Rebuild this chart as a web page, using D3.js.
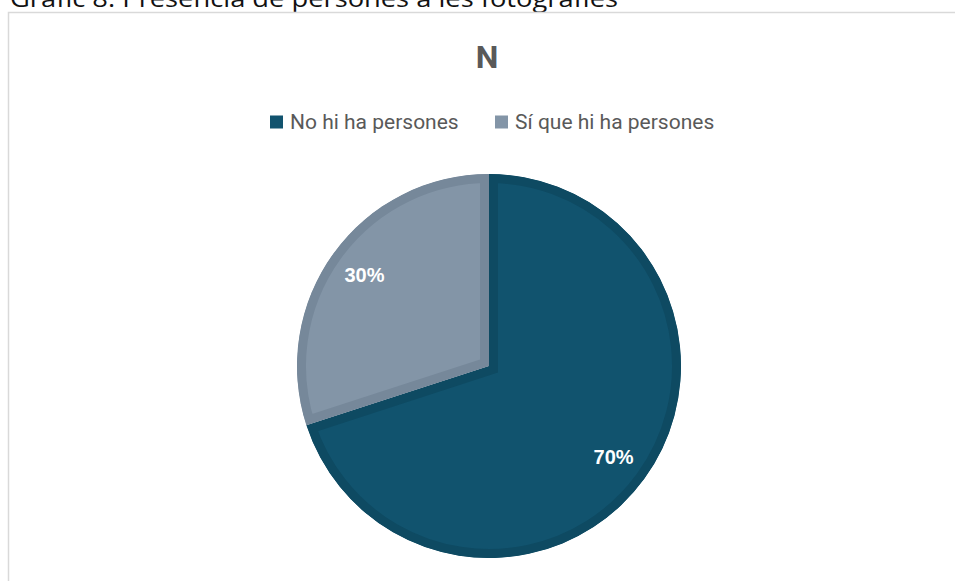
<!DOCTYPE html>
<html>
<head>
<meta charset="utf-8">
<script src="https://cdn.jsdelivr.net/npm/d3@7/dist/d3.min.js"></script>
<style>
  html, body { margin: 0; padding: 0; background: #ffffff; }
  svg { display: block; }
</style>
</head>
<body>
<svg id="chart" width="955" height="581"></svg>
<script>
// Chart data
const categories = ["No hi ha persones", "Sí que hi ha persones"];
const values = [70, 30];
const fills = ["#11536E", "#8395A7"];
const edges = ["#0E4A62", "#76889A"];
const caption = "Gràfic 8. Presència de persones a les fotografies";
const title = "N";

const W = 955, H = 581;
const svg = d3.select("#chart");

// Caption above the chart frame (only its lower part fits on the page)
svg.append("text")
  .attr("x", 10).attr("y", 7)
  .attr("font-family", "'Open Sans', 'Liberation Sans', sans-serif")
  .attr("font-size", 23)
  .attr("textLength", 608)
  .attr("lengthAdjust", "spacingAndGlyphs")
  .attr("fill", "#111111")
  .text(caption);

// Chart frame
svg.append("path")
  .attr("d", `M8.5,${H} L8.5,12.5 L${W},12.5`)
  .attr("fill", "none")
  .attr("stroke", "#d9d9d9")
  .attr("stroke-width", 1.5);

// Title
svg.append("text")
  .attr("x", 487).attr("y", 68)
  .attr("text-anchor", "middle")
  .attr("font-family", "Roboto, 'Liberation Sans', sans-serif")
  .attr("font-weight", "bold")
  .attr("font-size", 32)
  .attr("fill", "#595959")
  .text(title);

// Legend
const legendItems = [{x: 270, i: 0}, {x: 495, i: 1}];
const legend = svg.append("g");
legendItems.forEach(d => {
  legend.append("rect")
    .attr("x", d.x).attr("y", 115.5)
    .attr("width", 13).attr("height", 13)
    .attr("fill", fills[d.i]);
  legend.append("text")
    .attr("x", d.x + 20).attr("y", 128.5)
    .attr("font-family", "Roboto, 'Liberation Sans', sans-serif")
    .attr("font-size", 21)
    .attr("fill", "#595959")
    .text(categories[d.i]);
});

// Pie
const cx = 489, cy = 366, R = 192;
const pie = d3.pie().sort(null).value(d => d)(values);
const arc = d3.arc().innerRadius(0).outerRadius(R);
const labelArc = d3.arc().innerRadius(154).outerRadius(154);

const g = svg.append("g").attr("transform", `translate(${cx},${cy})`);
const defs = svg.append("defs");

pie.forEach((p, i) => {
  const d = arc(p);
  defs.append("clipPath").attr("id", "slice-clip-" + i)
    .append("path").attr("d", d);
  g.append("path")
    .attr("d", d)
    .attr("fill", fills[i])
    .attr("stroke", edges[i])
    .attr("stroke-width", 18)
    .attr("clip-path", `url(#slice-clip-${i})`);
});

// Percentage labels
const total = d3.sum(values);
pie.forEach((p, i) => {
  const [lx, ly] = labelArc.centroid(p);
  g.append("text")
    .attr("x", lx).attr("y", ly)
    .attr("dy", "0.35em")
    .attr("text-anchor", "middle")
    .attr("font-family", "'Liberation Sans', Arial, sans-serif")
    .attr("font-weight", "bold")
    .attr("font-size", 20)
    .attr("fill", "#ffffff")
    .text(Math.round(values[i] / total * 100) + "%");
});
</script>
</body>
</html>
